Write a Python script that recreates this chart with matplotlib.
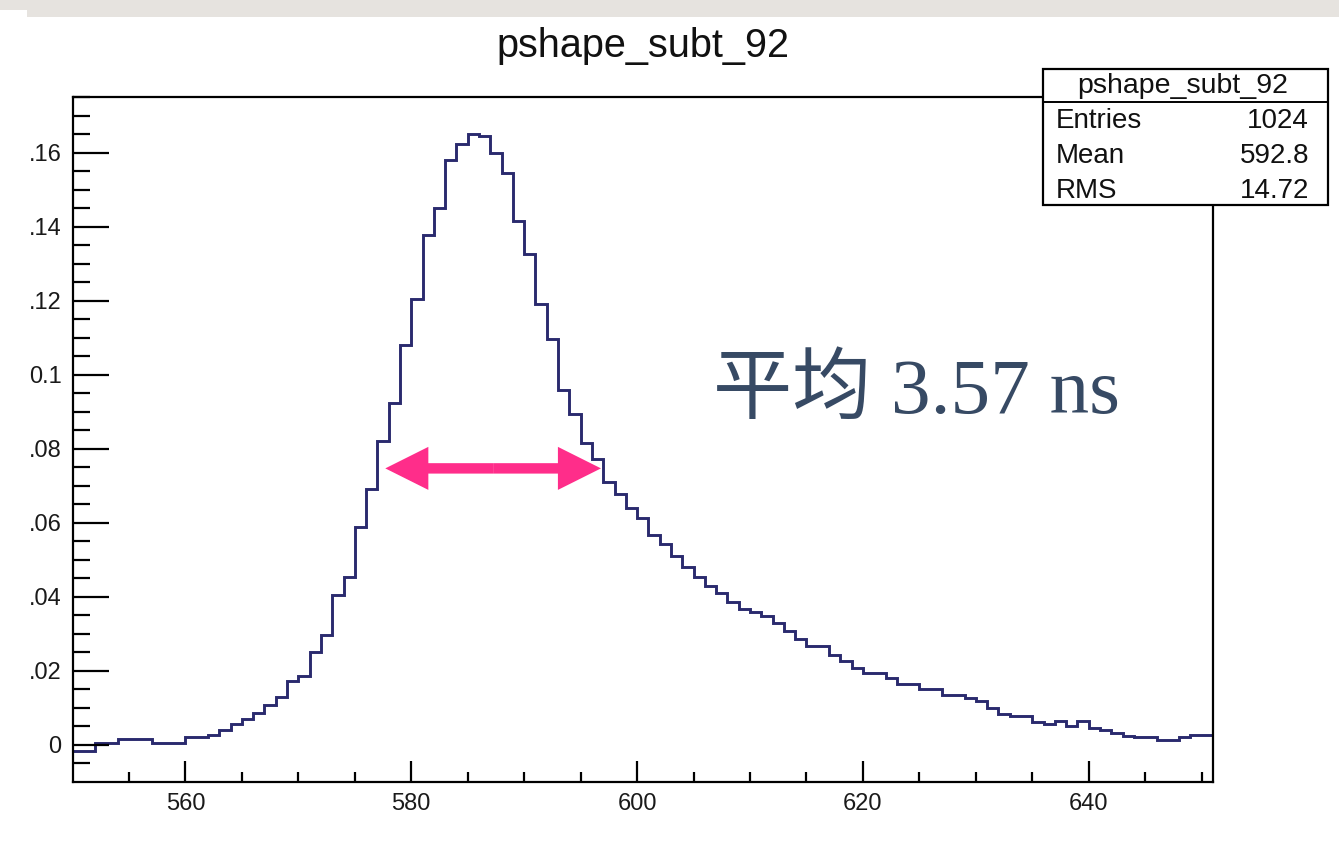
import numpy as np
import matplotlib.pyplot as plt
from matplotlib.patches import Rectangle
from matplotlib.lines import Line2D

# histogram contents, one value per unit-wide bin starting at 550
first_edge = 550
bin_width = 1
counts = [
    -0.0015, -0.0015, 0.0005, 0.0005, 0.0015, 0.0015, 0.0015, 0.0006, 0.0006, 0.0006,   # 550-559
    0.0021, 0.0021, 0.0027, 0.0040, 0.0057, 0.0071, 0.0086, 0.0107, 0.0129, 0.0172,     # 560-569
    0.0186, 0.0252, 0.0297, 0.0404, 0.0453, 0.0590, 0.0691, 0.0820, 0.0923, 0.1080,     # 570-579
    0.1204, 0.1378, 0.1450, 0.1579, 0.1624, 0.1651, 0.1646, 0.1600, 0.1545, 0.1414,     # 580-589
    0.1327, 0.1192, 0.1096, 0.0959, 0.0895, 0.0815, 0.0772, 0.0709, 0.0678, 0.0641,     # 590-599
    0.0613, 0.0568, 0.0544, 0.0511, 0.0482, 0.0455, 0.0430, 0.0410, 0.0387, 0.0367,     # 600-609
    0.0360, 0.0347, 0.0330, 0.0309, 0.0286, 0.0266, 0.0266, 0.0243, 0.0228, 0.0207,     # 610-619
    0.0194, 0.0194, 0.0180, 0.0164, 0.0164, 0.0150, 0.0150, 0.0135, 0.0135, 0.0128,     # 620-629
    0.0119, 0.0099, 0.0084, 0.0078, 0.0078, 0.0063, 0.0056, 0.0064, 0.0050, 0.0064,     # 630-639
    0.0047, 0.0040, 0.0033, 0.0024, 0.0021, 0.0021, 0.0014, 0.0014, 0.0021, 0.0028,     # 640-649
    0.0028,                                                                             # 650
]

hist_name = "pshape_subt_92"
stat_labels = ["Entries", "Mean", "RMS"]
stat_values = ["1024", "592.8", "14.72"]

x_ticks = [560, 580, 600, 620, 640]
y_ticks = [0, 0.02, 0.04, 0.06, 0.08, 0.10, 0.12, 0.14, 0.16]
y_ticklabels = ["0", ".02", ".04", ".06", ".08", "0.1", ".12", ".14", ".16"]

# width marker drawn on the peak
arrow_left = 577.7
arrow_right = 596.8
arrow_y = 0.0747
note_text = "平均 3.57 ns"

W, H = 1339, 860


def fx(px):
    return px / W


def fy(py):
    return 1 - py / H


plt.rcParams['font.family'] = ['Liberation Sans', 'DejaVu Sans']

fig = plt.figure(figsize=(W / 100, H / 100), dpi=100)
fig.patch.set_facecolor('white')

# light textured strip at the very top of the screenshot
fig.add_artist(Rectangle((0, fy(17)), 1, 17 / H, transform=fig.transFigure,
                         facecolor='#e6e3df', edgecolor='none', zorder=0))
fig.add_artist(Rectangle((0, fy(17)), fx(27), 7 / H, transform=fig.transFigure,
                         facecolor='white', edgecolor='none', zorder=0))

ax = fig.add_axes([fx(72.5), fy(782), fx(1213) - fx(72.5), fy(97) - fy(782)])

edges = first_edge + bin_width * np.arange(len(counts) + 1)
ax.stairs(counts, edges, baseline=None, color='#2a2a6e', lw=2.1)

ax.set_xlim(550, 651)
ax.set_ylim(-0.01, 0.175)

ax.set_xticks(x_ticks)
ax.set_xticks(np.arange(555, 651, 5), minor=True)
ax.set_yticks(y_ticks)
ax.set_yticklabels(y_ticklabels)
ax.set_yticks(np.arange(-0.005, 0.1751, 0.005), minor=True)

ax.tick_params(axis='both', which='both', direction='in', top=False, right=False,
               colors='black', width=1.6, labelsize=17, labelcolor='#1a1a1a')
ax.tick_params(axis='x', which='major', length=15, pad=8)
ax.tick_params(axis='x', which='minor', length=7.5)
ax.tick_params(axis='y', which='major', length=26, pad=8)
ax.tick_params(axis='y', which='minor', length=12.5)
for s in ax.spines.values():
    s.set_linewidth(1.6)

# title
fig.text(fx(643), fy(46), hist_name, ha='center', va='center', fontsize=28.5, color='#111111')

# stats box
bx0, bx1, by0, by1 = 1043, 1328, 69, 205
fig.add_artist(Rectangle((fx(bx0), fy(by1)), fx(bx1) - fx(bx0), fy(by0) - fy(by1),
                         transform=fig.transFigure, facecolor='white',
                         edgecolor='black', lw=1.6, zorder=5))
fig.add_artist(Line2D([fx(bx0), fx(bx1)], [fy(102), fy(102)], transform=fig.transFigure,
                      color='black', lw=1.4, zorder=6))
fig.text(fx(1183), fy(86), hist_name, ha='center', va='center', fontsize=20.5,
         color='#111111', zorder=7)
row_y = [121, 156, 191]
for lab, val, ry in zip(stat_labels, stat_values, row_y):
    fig.text(fx(1056), fy(ry), lab, ha='left', va='center', fontsize=20, color='#111111', zorder=7)
    fig.text(fx(1309), fy(ry), val, ha='right', va='center', fontsize=20, color='#111111', zorder=7)

# double-headed pink arrow, built from two one-sided arrows meeting in the middle
arrow_mid = (arrow_left + arrow_right) / 2
for tip in (arrow_left, arrow_right):
    ax.annotate('', xy=(tip, arrow_y), xytext=(arrow_mid, arrow_y),
                arrowprops=dict(arrowstyle='simple,head_length=3.1,head_width=3.1,tail_width=0.75',
                                mutation_scale=10, color='#ff2d8a', lw=0,
                                shrinkA=0, shrinkB=0))

fig.text(fx(713), fy(413), note_text, ha='left', va='baseline', fontsize=57,
         color='#374a64', family=['Liberation Serif', 'Noto Sans CJK SC'])

fig.savefig('out.png', dpi=100)
